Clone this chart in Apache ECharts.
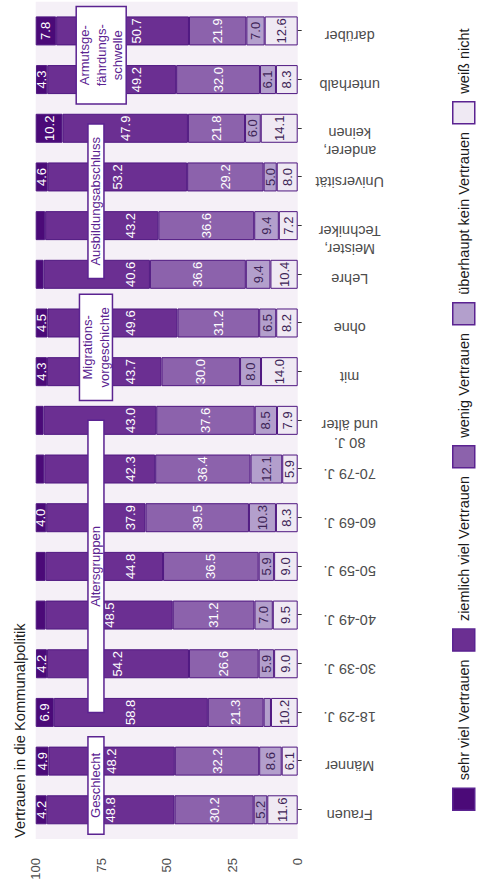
<!DOCTYPE html>
<html><head><meta charset="utf-8">
<script src="https://cdn.jsdelivr.net/npm/echarts@6/dist/echarts.min.js"></script>
<style>
html,body{margin:0;padding:0;width:478px;height:889px;overflow:hidden;background:#fff;}
#chart{position:absolute;left:0;top:0;width:889px;height:478px;transform-origin:0 0;transform:translateY(889px) rotate(-90deg);}
</style></head><body><div id="chart"></div>
<script>
// ---------- data ----------
const categories = ['Frauen','Männer','18-29 J.','30-39 J.','40-49 J.','50-59 J.','60-69 J.','70-79 J.','80 J.\nund älter','mit','ohne','Lehre','Meister,\nTechniker','Universität','anderer,\nkeinen','unterhalb','darüber'];
const seriesNames = ['sehr viel Vertrauen','ziemlich viel Vertrauen','wenig Vertrauen','überhaupt kein Vertrauen','weiß nicht'];
const sehrViel      = [4.2,4.9,6.9,4.2,3.8,3.8,4.0,3.3,3.0,4.3,4.5,3.0,3.6,4.6,10.2,4.3,7.8];
const ziemlichViel  = [48.8,48.2,58.8,54.2,48.5,44.8,37.9,42.3,43.0,43.7,49.6,40.6,43.2,53.2,47.9,49.2,50.7];
const wenig         = [30.2,32.2,21.3,26.6,31.2,36.5,39.5,36.4,37.6,30.0,31.2,36.6,36.6,29.2,21.8,32.0,21.9];
const keinVertrauen = [5.2,8.6,2.8,5.9,7.0,5.9,10.3,12.1,8.5,8.0,6.5,9.4,9.4,5.0,6.0,6.1,7.0];
const weissNicht    = [11.6,6.1,10.2,9.0,9.5,9.0,8.3,5.9,7.9,14.0,8.2,10.4,7.2,8.0,14.1,8.3,12.6];
const valueTicks = [0,25,50,75,100];
const groupNames = ['Geschlecht','Altersgruppen','Migrations-\nvorgeschichte','Ausbildungsabschluss','Armutsge-\nfährdungs-\nschwelle'];
const groupFirst = [0,2,9,11,15];
const groupLast  = [1,8,10,14,16];
const titleText = 'Vertrauen in die Kommunalpolitik';

// ---------- styling / layout ----------
const colors = {
  'sehr viel Vertrauen':'#4b0a78',
  'ziemlich viel Vertrauen':'#6b2f92',
  'wenig Vertrauen':'#8c62ac',
  'überhaupt kein Vertrauen':'#b39fcc',
  'weiß nicht':'#efe9f3'
};
const labelColors = {
  'sehr viel Vertrauen':'#ffffff',
  'ziemlich viel Vertrauen':'#ffffff',
  'wenig Vertrauen':'#ffffff',
  'überhaupt kein Vertrauen':'#3d2456',
  'weiß nicht':'#3d2456'
};
const valuesByName = {
  'sehr viel Vertrauen':sehrViel,
  'ziemlich viel Vertrauen':ziemlichViel,
  'wenig Vertrauen':wenig,
  'überhaupt kein Vertrauen':keinVertrauen,
  'weiß nicht':weissNicht
};
const FONT = '"Liberation Sans", Arial, Helvetica, sans-serif';
const borderPurple = '#4f1780';
const boxPurple = '#5b2391';
const boxCenterValue = [77,77,77,77,75];
const boxFont = 13, boxLine = 17, boxPad = 13;

// plot geometry (in the unrotated 889x478 frame)
const CW = 889, CH = 478;
const bgLeft = 50, bgRight = 1.7, plotTop = 35.7, plotBottom = 180.3;
const nCat = categories.length;
const band = (CW - bgLeft - bgRight) / (nCat + 0.2);
const inset = 0.1 * band;
const labelShiftPx = 4;
const pxPerUnit = (CH - plotTop - plotBottom) / 100;
const labelHalf = 5;          // half text height of bar labels, px
const repelDist = 35;         // px from box centre for displaced labels

const mctx = document.createElement('canvas').getContext('2d');
mctx.font = boxFont + 'px ' + FONT;
function measure(t){ return mctx.measureText(t).width; }

const stackOrder = seriesNames.slice().reverse();

// displace labels that would sit under a group box
function labelOffset(name, i) {
  let base = 0;
  for (const n of stackOrder) {
    if (n === name) break;
    base += valuesByName[n][i];
  }
  const c = base + valuesByName[name][i] / 2;
  for (let g = 0; g < groupNames.length; g++) {
    if (i < groupFirst[g] || i > groupLast[g]) continue;
    const nl = groupNames[g].split('\n').length;
    const halfH = (nl * boxLine - 1) / 2;
    if (Math.abs(c - boxCenterValue[g]) * pxPerUnit < halfH + labelHalf) {
      const target = boxCenterValue[g] - repelDist / pxPerUnit;
      return (c - target) * pxPerUnit;
    }
  }
  return 0;
}

const barSeries = stackOrder.map(name => ({
  name: name,
  type: 'bar',
  stack: 'total',
  xAxisIndex: 0,
  yAxisIndex: 0,
  barWidth: 29,
  data: valuesByName[name].map((v, i) => {
    const dy = labelOffset(name, i);
    return dy ? { value: v, label: { offset: [0, dy] } } : v;
  }),
  itemStyle: { color: colors[name], borderColor: borderPurple, borderWidth: 1 },
  label: {
    show: true,
    position: 'inside',
    fontFamily: FONT,
    fontSize: 13,
    color: labelColors[name],
    formatter: p => (p.value >= 4 ? p.value.toFixed(1) : '')
  },
  emphasis: { disabled: true }
}));

const boxSeries = {
  type: 'custom',
  name: 'groups',
  xAxisIndex: 0,
  yAxisIndex: 0,
  z: 10,
  silent: true,
  clip: false,
  data: groupNames.map((n, i) => [groupFirst[i], boxCenterValue[i], groupLast[i]]),
  encode: { x: 0, y: 1 },
  renderItem: function (params, api) {
    const i = params.dataIndex;
    const f = groupFirst[i], l = groupLast[i];
    const bw = api.size([1, 0])[0];
    const pf = api.coord([f, boxCenterValue[i]]);
    const pl = api.coord([l, boxCenterValue[i]]);
    const ext = (l - f >= 2) ? 0 : bw / 2;
    const x1 = pf[0] - ext, x2 = pl[0] + ext;
    const lines = groupNames[i].split('\n');
    const tw = Math.max.apply(null, lines.map(measure));
    const cx = (x1 + x2) / 2;
    const w = Math.max(x2 - x1, tw + 2 * boxPad);
    const h = lines.length * boxLine - 1;
    return {
      type: 'group',
      children: [
        { type: 'rect', shape: { x: cx - w / 2, y: pf[1] - h / 2, width: w, height: h },
          style: { fill: '#ffffff', stroke: boxPurple, lineWidth: 1.5 } },
        { type: 'text', x: cx, y: pf[1],
          style: { text: groupNames[i], align: 'center', verticalAlign: 'middle',
                   font: boxFont + 'px ' + FONT, fill: boxPurple, lineHeight: boxLine - 0.5 } }
      ]
    };
  }
};

const chart = echarts.init(document.getElementById('chart'), null, { renderer: 'svg', width: CW, height: CH });
chart.setOption({
  animation: false,
  backgroundColor: '#ffffff',
  title: {
    text: titleText, left: 51, top: 12, padding: 0,
    textStyle: { fontFamily: FONT, fontSize: 14.7, fontWeight: 'normal', color: '#1a1a1a' }
  },
  legend: {
    data: seriesNames, left: 78, top: 452, padding: 0,
    itemWidth: 22, itemHeight: 22, itemGap: 7.5, icon: 'rect',
    itemStyle: { borderColor: boxPurple, borderWidth: 1.5 },
    textStyle: { fontFamily: FONT, fontSize: 14.5, color: '#1a1a1a', padding: [0, 0, 0, 3] },
    selectedMode: false
  },
  grid: [
    { left: bgLeft + inset, right: bgRight + inset, top: plotTop, bottom: plotBottom },
    { left: bgLeft, right: bgRight, top: plotTop, bottom: plotBottom, show: true, backgroundColor: '#f5f0f7', borderWidth: 0, z: 0 },
    { left: bgLeft + inset + labelShiftPx, right: bgRight + inset - labelShiftPx, top: plotTop, bottom: plotBottom }
  ],
  xAxis: [
    {
      type: 'category', gridIndex: 0, data: categories, position: 'bottom',
      axisLine: { show: false }, splitLine: { show: false },
      axisTick: { show: true, alignWithLabel: true, interval: 0, length: 4, lineStyle: { color: '#333333', width: 1 } },
      axisLabel: { show: false }
    },
    { type: 'value', gridIndex: 1, show: false, min: 0, max: 1 },
    {
      type: 'category', gridIndex: 2, data: categories, position: 'bottom',
      axisLine: { show: false }, splitLine: { show: false }, axisTick: { show: false },
      axisLabel: {
        show: true, interval: 0, rotate: 90, align: 'center', verticalAlign: 'bottom',
        margin: 52, lineHeight: 18, fontFamily: FONT, fontSize: 14.5, color: '#4d4d4d'
      }
    }
  ],
  yAxis: [
    {
      type: 'value', gridIndex: 0, min: 0, max: 100, interval: 25,
      axisLine: { show: false }, axisTick: { show: false }, splitLine: { show: false },
      axisLabel: {
        margin: 19 + inset, fontFamily: FONT, fontSize: 13, color: '#4d4d4d',
        formatter: v => (valueTicks.indexOf(v) >= 0 ? String(v) : '')
      }
    },
    { type: 'value', gridIndex: 1, show: false, min: 0, max: 1 },
    { type: 'value', gridIndex: 2, show: false, min: 0, max: 1 }
  ],
  series: barSeries.concat([boxSeries])
});
</script></body></html>
